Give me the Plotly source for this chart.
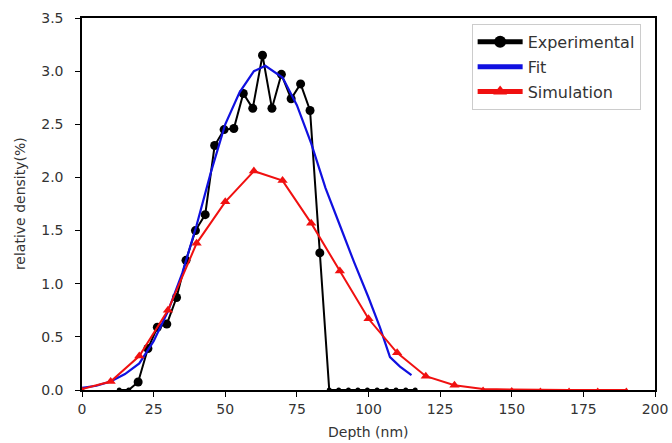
import plotly.graph_objects as go

# Experimental data
exp_x = [13.0, 16.3, 19.6, 23.0, 26.3, 29.6, 33.0, 36.3, 39.6, 43.0, 46.3, 49.6,
         53.0, 56.3, 59.6, 63.0, 66.3, 69.6, 73.0, 76.3, 79.6, 83.0, 86.3, 89.6,
         93.0, 96.3, 99.6, 103.0, 106.3, 109.6, 113.0, 116.3]
exp_y = [0.0, 0.0, 0.075, 0.39, 0.59, 0.62, 0.87, 1.22, 1.5, 1.65, 2.3, 2.45,
         2.46, 2.79, 2.65, 3.15, 2.65, 2.97, 2.74, 2.88, 2.63, 1.29, 0.0, 0.0,
         0.0, 0.0, 0.0, 0.0, 0.0, 0.0, 0.0, 0.0]

# Fit curve
fit_x = [0, 5, 10, 15, 20, 25, 30, 35, 40, 45, 50, 55, 60, 64, 70, 75, 80, 85,
         90, 95, 100, 104, 107.5, 111, 115]
fit_y = [0.02, 0.04, 0.08, 0.15, 0.25, 0.46, 0.74, 1.1, 1.55, 2.05, 2.5, 2.8,
         3.0, 3.05, 2.94, 2.68, 2.32, 1.9, 1.55, 1.2, 0.87, 0.59, 0.31, 0.22, 0.14]

# Simulation
sim_x = [0, 10, 20, 30, 40, 50, 60, 70, 80, 90, 100, 110, 120, 130, 140, 150,
         160, 170, 180, 190]
sim_y = [0.01, 0.08, 0.32, 0.75, 1.38, 1.77, 2.06, 1.97, 1.57, 1.12, 0.67, 0.35,
         0.13, 0.045, 0.01, 0.004, 0.0, 0.0, 0.0, 0.0]

x_ticks = [0, 25, 50, 75, 100, 125, 150, 175, 200]
y_ticks = [0.0, 0.5, 1.0, 1.5, 2.0, 2.5, 3.0, 3.5]

# markers sitting on the x axis are half hidden in the original -> draw them smaller
exp_sizes = [9 if v > 0.05 else 5 for v in exp_y]
sim_sizes = [9 if v > 0.03 else 5 for v in sim_y]

fig = go.Figure()
fig.add_trace(go.Scatter(x=exp_x, y=exp_y, mode="lines+markers", name="Experimental",
                         legendgroup="a",
                         line=dict(color="black", width=2),
                         marker=dict(symbol="circle", size=exp_sizes, color="black",
                                     opacity=1, line=dict(width=0))))
fig.add_trace(go.Scatter(x=fit_x, y=fit_y, mode="lines", name="Fit", legendgroup="b",
                         line=dict(color="#1010e0", width=2.2)))
fig.add_trace(go.Scatter(x=sim_x, y=sim_y, mode="lines+markers", name="Simulation",
                         legendgroup="c",
                         line=dict(color="#f01010", width=2),
                         marker=dict(symbol="triangle-up", size=sim_sizes, color="#f01010",
                                     opacity=1, line=dict(width=0))))

font_txt = dict(family="DejaVu Sans", size=14, color="#333")
axis_common = dict(showline=True, linecolor="black", linewidth=1.5, mirror=True,
                   ticks="outside", ticklen=5, tickcolor="black", showgrid=False,
                   zeroline=False, tickfont=font_txt, automargin=False)

fig.update_xaxes(range=[0, 200], tickvals=x_ticks,
                 ticktext=[str(v) for v in x_ticks], **axis_common)
fig.update_yaxes(range=[0, 3.5], tickvals=y_ticks,
                 ticktext=[f"{v:.1f}\u00a0\u00a0" for v in y_ticks], **axis_common)

fig.add_annotation(text="Depth (nm)", xref="paper", yref="paper", x=0.5, y=-0.113,
                   xanchor="center", yanchor="middle", showarrow=False, font=font_txt)
fig.add_annotation(text="relative density(%)", xref="paper", yref="paper", x=-0.108, y=0.5,
                   xanchor="center", yanchor="middle", showarrow=False, textangle=-90,
                   font=font_txt)

fig.update_layout(
    width=672, height=443,
    margin=dict(l=82, r=17, t=18, b=53),
    plot_bgcolor="white", paper_bgcolor="white",
    showlegend=True,
    legend=dict(x=0.68, y=0.984, xanchor="left", yanchor="top",
                bgcolor="white", bordercolor="#cccccc", borderwidth=1,
                font=dict(family="DejaVu Sans", size=16, color="#333"),
                tracegroupgap=1, itemwidth=45, itemsizing="constant"),
)

fig.write_html("out.html")
